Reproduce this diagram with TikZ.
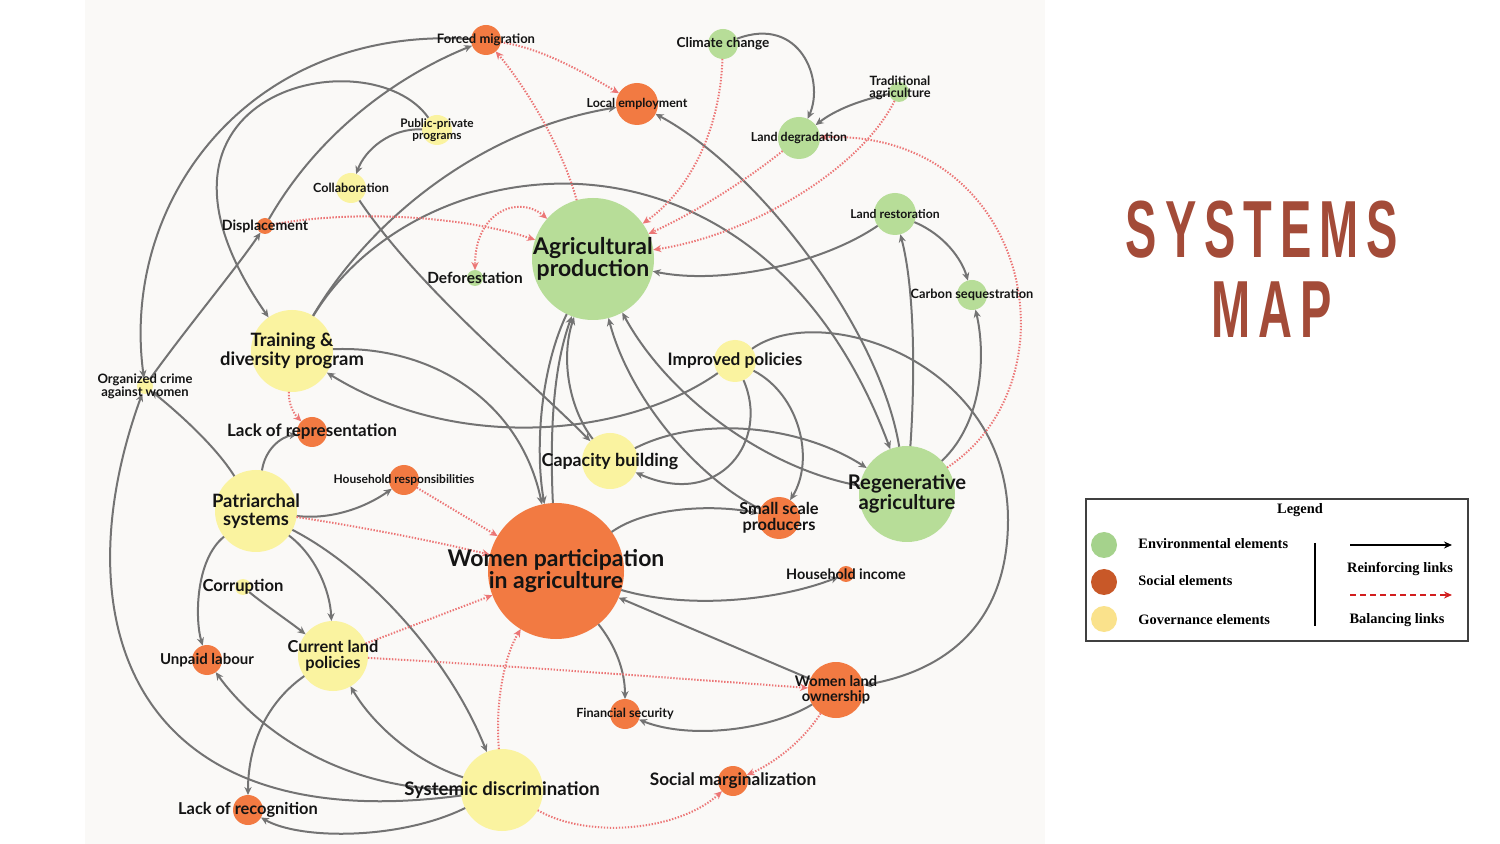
\documentclass[tikz,border=0pt]{standalone}
\usepackage{fontspec}
\usepackage{graphicx}
\usetikzlibrary{arrows.meta}
\newfontfamily\labfont{Lato}
\newfontfamily\legfont{Liberation Serif}
\newfontfamily\titfont{Liberation Sans}[LetterSpace=17]
\definecolor{corange}{RGB}{242,122,66}
\definecolor{cgreen}{RGB}{183,221,152}
\definecolor{cyellow}{RGB}{250,243,160}
\definecolor{cline}{RGB}{115,115,115}
\definecolor{cdot}{RGB}{236,118,118}
\definecolor{ctext}{RGB}{20,20,20}
\definecolor{ctitle}{RGB}{163,75,56}
\definecolor{cpanel}{RGB}{250,249,247}
\definecolor{lgreen}{RGB}{165,210,140}
\definecolor{lorange}{RGB}{200,88,40}
\definecolor{lyellow}{RGB}{250,226,140}
\definecolor{lred}{RGB}{210,30,30}
\newcommand\lbf{\labfont\bfseries}
\tikzset{
  nd/.style={circle, inner sep=0pt, outer sep=0pt, draw=none},
  onode/.style={nd, fill=corange},
  gnode/.style={nd, fill=cgreen},
  ynode/.style={nd, fill=cyellow},
  lab/.style={align=center, text=ctext, inner sep=0pt, font=\lbf\fontsize{#1}{#1}\selectfont},
  lbig/.style={align=center, text=ctext, inner sep=0pt, font=\lbf\fontsize{11.5}{11}\selectfont},
  >={Stealth[length=4pt,width=3.6pt]},
  reinf/.style={draw=cline, line width=1pt, ->},
  balan/.style={draw=cdot, line width=1pt, dash pattern=on 0.7pt off 0.8pt, ->},
  legt/.style={font=\legfont\bfseries\fontsize{7.2}{8}\selectfont, text=black, inner sep=0pt},
  ttl/.style={font=\titfont\bfseries\fontsize{40.5}{40.5}\selectfont, text=ctitle, inner sep=0pt}
}
\begin{document}
\begin{tikzpicture}[x=0.5pt,y=-0.5pt]
\useasboundingbox (0,0) rectangle (1500,844);
\fill[white] (0,0) rectangle (1500,844);
\fill[cpanel] (85,0) rectangle (1045,844);

% ---------- element circles ----------
\node[onode,minimum size=15pt] (fm) at (486,40) {};
\node[gnode,minimum size=15pt] (cc) at (723,44) {};
\node[onode,minimum size=21pt] (le) at (637,104) {};
\node[gnode,minimum size=10pt] (ta) at (899,92) {};
\node[ynode,minimum size=15pt] (pp) at (437,130) {};
\node[gnode,minimum size=21pt] (ld) at (799,138) {};
\node[ynode,minimum size=15pt] (col) at (351,188) {};
\node[onode,minimum size=8pt] (dis) at (265,226) {};
\node[gnode,minimum size=21pt] (lr) at (895,214) {};
\node[gnode,minimum size=61pt] (ap) at (593,259) {};
\node[gnode,minimum size=8pt] (def) at (475,278) {};
\node[gnode,minimum size=15pt] (cs) at (972,295) {};
\node[ynode,minimum size=41pt] (tdp) at (292,351) {};
\node[ynode,minimum size=21pt] (ip) at (735,361) {};
\node[ynode,minimum size=8pt] (oc) at (145,386) {};
\node[onode,minimum size=15pt] (lor) at (312,432) {};
\node[ynode,minimum size=28pt] (cb) at (610,461) {};
\node[gnode,minimum size=48pt] (ra) at (907,494) {};
\node[onode,minimum size=15pt] (hr) at (404,480) {};
\node[ynode,minimum size=41pt] (ps) at (256,511) {};
\node[onode,minimum size=21pt] (ssp) at (779,518) {};
\node[onode,minimum size=68pt] (wp) at (556,571) {};
\node[onode,minimum size=8pt] (hi) at (846,574) {};
\node[ynode,minimum size=8pt] (cor) at (243,587) {};
\node[ynode,minimum size=35pt] (clp) at (333,656) {};
\node[onode,minimum size=15pt] (ul) at (207,660) {};
\node[onode,minimum size=28pt] (wlo) at (836,690) {};
\node[onode,minimum size=15pt] (fs) at (625,714) {};
\node[onode,minimum size=15pt] (sm) at (733,781) {};
\node[ynode,minimum size=41pt] (sd) at (502,790) {};
\node[onode,minimum size=15pt] (lrec) at (248,810) {};

% ---------- reinforcing links ----------
\draw[reinf] (fm) .. controls (250,25) and (120,200) .. (oc);
\draw[reinf] (sd) .. controls (130,840) and (60,620) .. (oc);
\draw[reinf] (oc) .. controls (185,330) and (235,270) .. (dis);
\draw[reinf] (ps) .. controls (215,445) and (175,410) .. (oc);
\draw[reinf] (dis) .. controls (320,130) and (400,75) .. (fm);
\draw[reinf] (pp) .. controls (370,35) and (110,90) .. (tdp);
\draw[reinf] (pp) .. controls (390,128) and (365,150) .. (col);
\draw[reinf] (col) .. controls (420,290) and (530,380) .. (cb);
\draw[reinf] (tdp) .. controls (370,220) and (480,130) .. (le);
\draw[reinf] (tdp) .. controls (420,140) and (760,100) .. (ra);
\draw[reinf] (ip) .. controls (630,435) and (460,455) .. (tdp);
\draw[reinf] (tdp) .. controls (430,345) and (520,400) .. (wp);
\draw[reinf] (ap) .. controls (540,370) and (535,450) .. (wp);
\draw[reinf] (wp) .. controls (550,440) and (552,370) .. (ap);
\draw[reinf] (cb) .. controls (570,410) and (560,360) .. (ap);
\draw[reinf] (ra) .. controls (880,330) and (760,170) .. (le);
\draw[reinf] (ra) .. controls (770,470) and (670,400) .. (ap);
\draw[reinf] (ssp) .. controls (700,480) and (630,400) .. (ap);
\draw[reinf] (cb) .. controls (700,415) and (800,425) .. (ra);
\draw[reinf] (ip) .. controls (770,440) and (720,510) .. (cb);
\draw[reinf] (ip) .. controls (800,395) and (815,460) .. (ssp);
\coordinate (ipw) at (1008,520);
\draw[reinf] (ip) .. controls (820,300) and (1008,360) .. (ipw) .. controls (1008,620) and (950,670) .. (wlo);
\draw[reinf] (lr) .. controls (820,265) and (720,285) .. (ap);
\draw[reinf] (ra) .. controls (915,380) and (915,290) .. (lr);
\draw[reinf] (ra) .. controls (985,420) and (985,350) .. (cs);
\draw[reinf] (lr) .. controls (945,235) and (962,260) .. (cs);
\draw[reinf] (cc) .. controls (800,15) and (825,80) .. (ld);
\draw[reinf] (ta) .. controls (860,100) and (835,110) .. (ld);
\draw[reinf] (ps) .. controls (265,450) and (280,437) .. (lor);
\draw[reinf] (ps) .. controls (330,520) and (365,508) .. (hr);
\draw[reinf] (ps) .. controls (195,560) and (195,620) .. (ul);
\draw[reinf] (ps) .. controls (315,555) and (330,590) .. (clp);
\draw[reinf] (ps) .. controls (370,570) and (450,660) .. (sd);
\draw[reinf] (cor) .. controls (265,605) and (290,622) .. (clp);
\draw[reinf] (sd) .. controls (410,760) and (370,720) .. (clp);
\draw[reinf] (sd) .. controls (330,790) and (250,720) .. (ul);
\draw[reinf] (sd) .. controls (400,840) and (300,840) .. (lrec);
\draw[reinf] (clp) .. controls (270,700) and (248,740) .. (lrec);
\draw[reinf] (wp) .. controls (650,505) and (720,505) .. (ssp);
\draw[reinf] (wp) .. controls (690,610) and (780,600) .. (hi);
\draw[reinf] (wlo) -- (wp);
\draw[reinf] (wp) .. controls (615,645) and (625,670) .. (fs);
\draw[reinf] (wlo) .. controls (770,730) and (690,740) .. (fs);

% ---------- balancing links ----------
\draw[balan] (ap) .. controls (560,140) and (520,80) .. (fm);
\draw[balan] (fm) .. controls (540,48) and (580,70) .. (le);
\draw[balan] (cc) .. controls (720,130) and (690,190) .. (ap);
\draw[balan] (ld) .. controls (740,185) and (690,215) .. (ap);
\draw[balan] (ta) .. controls (860,170) and (750,235) .. (ap);
\draw[balan] (ra) .. controls (1080,380) and (1030,130) .. (ld);
\draw[balan] (dis) .. controls (350,210) and (460,215) .. (ap);
\draw[balan,<->] (ap) .. controls (520,195) and (475,210) .. (def);
\draw[balan] (tdp) .. controls (288,405) and (295,415) .. (lor);
\draw[balan] (ps) .. controls (350,525) and (430,540) .. (wp);
\draw[balan] (hr) -- (wp);
\draw[balan] (clp) -- (wp);
\draw[balan] (clp) .. controls (500,665) and (700,680) .. (wlo);
\draw[balan] (sd) .. controls (495,700) and (505,655) .. (wp);
\draw[balan] (sd) .. controls (590,840) and (680,830) .. (sm);
\draw[balan] (wlo) .. controls (800,745) and (770,765) .. (sm);

% ---------- labels ----------
\node[lab=6.5] (fm-t) at (fm) {Forced migration};
\node[lab=6.8] (cc-t) at (cc) {Climate change};
\node[lab=6.2] (le-t) at (le) {Local employment};
\node[lab=6.4] (ta-t) at (900,88) {Traditional\\agriculture};
\node[lab=5.9] (pp-t) at (437,130) {Public-private\\programs};
\node[lab=6.2] (ld-t) at (ld) {Land degradation};
\node[lab=6.3] (col-t) at (col) {Collaboration};
\node[lab=7.1] (dis-t) at (dis) {Displacement};
\node[lab=6.1] (lr-t) at (lr) {Land restoration};
\node[lbig] (ap-t) at (ap) {Agricultural\\production};
\node[lab=7.7] (def-t) at (def) {Deforestation};
\node[lab=6.4] (cs-t) at (cs) {Carbon sequestration};
\node[lab=9.2] (tdp-t) at (tdp) {Training \&\\diversity program};
\node[lab=8.6] (ip-t) at (ip) {Improved policies};
\node[lab=6.5] (oc-t) at (oc) {Organized crime\\against women};
\node[lab=8.5] (lor-t) at (lor) {Lack of representation};
\node[lab=8.9] (cb-t) at (cb) {Capacity building};
\node[lab=10.1] (ra-t) at (ra) {Regenerative\\agriculture};
\node[lab=6] (hr-t) at (hr) {Household responsibilities};
\node[lab=9.2] (ps-t) at (ps) {Patriarchal\\systems};
\node[lab=8.2] (ssp-t) at (ssp) {Small scale\\producers};
\node[lbig] (wp-t) at (wp) {Women participation\\in agriculture};
\node[lab=7.2] (hi-t) at (hi) {Household income};
\node[lab=8.3] (cor-t) at (cor) {Corruption};
\node[lab=8.2] (clp-t) at (clp) {Current land\\policies};
\node[lab=7.5] (ul-t) at (ul) {Unpaid labour};
\node[lab=7.3] (wlo-t) at (wlo) {Women land\\ownership};
\node[lab=6.3] (fs-t) at (fs) {Financial security};
\node[lab=8.6] (sm-t) at (sm) {Social marginalization};
\node[lab=9.3] (sd-t) at (sd) {Systemic discrimination};
\node[lab=8.2] (lrec-t) at (lrec) {Lack of recognition};

% ---------- title ----------
\node[ttl, anchor=base] (title1) at (1262,258) {\scalebox{0.58}[1]{SYSTEMS}};
\node[ttl, anchor=base] (title2) at (1272,338) {\scalebox{0.58}[1]{MAP}};

% ---------- legend ----------
\draw[draw=black!75, line width=0.7pt] (1086,499) rectangle (1468,641);
\node[legt] (leg-t) at (1300,510) {Legend};
\node[nd, fill=lgreen, minimum size=13pt] (lg1) at (1104,545) {};
\node[nd, fill=lorange, minimum size=13pt] (lg2) at (1104,582) {};
\node[nd, fill=lyellow, minimum size=13pt] (lg3) at (1104,619) {};
\node[legt, anchor=west] (lg1-t) at (1138,544) {Environmental elements};
\node[legt, anchor=west] (lg2-t) at (1138,581) {Social elements};
\node[legt, anchor=west] (lg3-t) at (1138,620) {Governance elements};
\draw[black, line width=1pt] (1315,543) -- (1315,626);
\coordinate (la1) at (1350,545);
\coordinate (la2) at (1452,545);
\draw[black, line width=0.8pt, -{Stealth[length=4pt,width=3.5pt]}] (la1) -- (la2);
\coordinate (lb1) at (1350,595);
\coordinate (lb2) at (1452,595);
\draw[lred, line width=0.8pt, dash pattern=on 3pt off 2pt, -{Stealth[length=4pt,width=3.5pt]}] (lb1) -- (lb2);
\node[legt] (lr-lab) at (1400,569) {Reinforcing links};
\node[legt] (lb-lab) at (1397,620) {Balancing links};
\end{tikzpicture}
\end{document}
